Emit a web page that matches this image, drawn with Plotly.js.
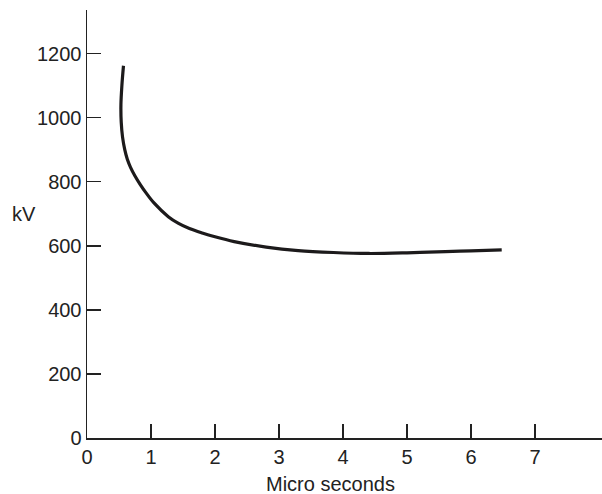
<!DOCTYPE html>
<html>
<head>
<meta charset="utf-8">
<script src="https://cdn.plot.ly/plotly-3.0.1.min.js"></script>
<style>html,body{margin:0;padding:0;background:#fff;}#chart{width:602px;height:494px;}</style>
</head>
<body>
<div id="chart"></div>
<script>
const timeUs = [0.57, 0.545, 0.53, 0.535, 0.555, 0.59, 0.63, 0.68, 0.75, 0.83, 0.92, 1.05, 1.27, 1.43, 1.6, 1.8, 2.0, 2.3, 2.8, 3.3, 3.85, 4.4, 5.0, 5.6, 6.0, 6.48];
const voltageKV = [1162, 1100, 1040, 985, 940, 900, 870, 845, 818, 792, 766, 733, 691, 670, 654, 640, 628, 613, 596, 585, 579, 576, 578, 582, 584, 587];
const xTicks = [0, 1, 2, 3, 4, 5, 6, 7];
const yTicks = [0, 200, 400, 600, 800, 1000, 1200];
const xTitle = "Micro seconds";
const yTitle = "kV";

const font = {family: "Liberation Sans, Arial, sans-serif", size: 20, color: "#222"};

const trace = {
  x: timeUs, y: voltageKV, mode: "lines", type: "scatter",
  line: {color: "#1c1a1b", width: 3.2, shape: "spline", smoothing: 1},
  hoverinfo: "none"
};

const layout = {
  width: 602, height: 494,
  margin: {l: 87, r: 0, t: 10, b: 56},
  paper_bgcolor: "#fff", plot_bgcolor: "#fff",
  showlegend: false,
  font: font,
  xaxis: {
    range: [0, 8.047], tickvals: xTicks, ticktext: xTicks.map(String),
    ticks: "inside", ticklen: 14, tickwidth: 1.5, tickcolor: "#222",
    showline: true, linecolor: "#222", linewidth: 1.5,
    showgrid: false, zeroline: false, tickfont: font, fixedrange: true
  },
  yaxis: {
    range: [0, 1336], tickvals: yTicks, ticktext: yTicks.map(String),
    ticks: "inside", ticklen: 14, tickwidth: 1.5, tickcolor: "#222",
    showline: true, linecolor: "#222", linewidth: 1.5,
    showgrid: false, zeroline: false, tickfont: font, fixedrange: true
  },
  annotations: [
    {text: xTitle, xref: "paper", yref: "paper", x: 0.472, y: -0.108,
     xanchor: "center", yanchor: "middle", showarrow: false, font: font},
    {text: yTitle, xref: "paper", yref: "y", x: -0.123, y: 699,
     xanchor: "center", yanchor: "middle", showarrow: false, font: font}
  ]
};

Plotly.newPlot("chart", [trace], layout, {staticPlot: true, displayModeBar: false});
</script>
</body>
</html>
